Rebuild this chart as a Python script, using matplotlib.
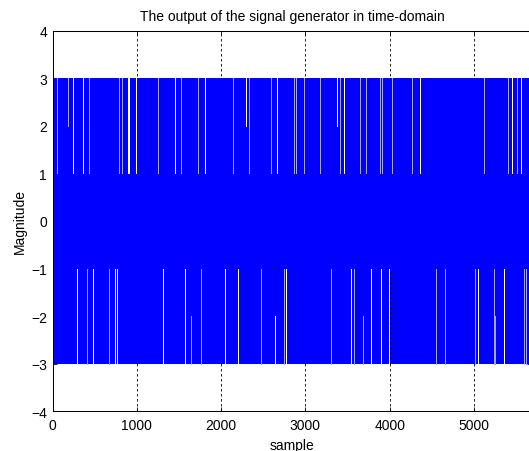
import matplotlib
matplotlib.use('Agg')
import matplotlib.pyplot as plt

plt.rcParams.update({'font.size': 10, 'font.family': ['Liberation Sans', 'DejaVu Sans']})

# 4-level signal
levels = [-3, -1, 1, 3]
n_samples = 5680

# sample positions where the signal skips the top level (white = clear gap, light = partial)
upper_white = [243, 362, 892, 907, 987, 1457, 1813, 2667, 3458, 4363, 5454, 5561]
upper_light = [50, 433, 789, 824, 1248, 1521, 1722, 2141, 2327, 2592, 2865, 2888, 2987,
               3170, 3407, 3644, 3719, 3881, 3909, 4024, 4261, 5115, 5403, 5507]
upper_white_half = [2299, 3378]
upper_light_half = [180]

# sample positions where the signal skips the bottom level
lower_white = [294, 484, 738, 762, 1314, 1575, 2050, 2197, 2773, 3537, 3775, 3897, 3995,
               5044, 5356]
lower_light = [406, 670, 1762, 2470, 2743, 3300, 3577, 4549, 4656, 5008, 5234, 5589, 5613]
lower_white_half = [2639]
lower_light_half = [1643, 3680, 5253]

blue = '#0000ff'
light = '#a6a6ff'

fig = plt.figure(figsize=(5.29, 4.52), dpi=100)
ax = fig.add_axes([52.5/529, (452-412.3)/452, n_samples*0.0843/529, 380.6/452])

lo, hi = min(levels), max(levels)
mid_hi, mid_lo = levels[2], levels[1]
ax.fill_between([0, n_samples], lo, hi, color=blue, lw=0, zorder=2)

lw = 0.72
ax.vlines(upper_white, mid_hi, hi, color='white', lw=lw, antialiased=False, zorder=3)
ax.vlines(upper_light, mid_hi, hi, color=light, lw=lw, antialiased=False, zorder=3)
ax.vlines(upper_white_half, (mid_hi+hi)/2, hi, color='white', lw=lw, antialiased=False, zorder=3)
ax.vlines(upper_light_half, (mid_hi+hi)/2, hi, color=light, lw=lw, antialiased=False, zorder=3)
ax.vlines(lower_white, lo, mid_lo, color='white', lw=lw, antialiased=False, zorder=3)
ax.vlines(lower_light, lo, mid_lo, color=light, lw=lw, antialiased=False, zorder=3)
ax.vlines(lower_white_half, lo, (mid_lo+lo)/2, color='white', lw=lw, antialiased=False, zorder=3)
ax.vlines(lower_light_half, lo, (mid_lo+lo)/2, color=light, lw=lw, antialiased=False, zorder=3)

ax.set_xlim(0, n_samples)
ax.set_ylim(-4, 4)
ax.set_xticks(range(0, 5001, 1000))
ax.set_yticks(range(-4, 5))
ax.grid(axis='x', color='black', linestyle=(0, (3, 3)), lw=0.6, zorder=1)
ax.grid(axis='y', visible=False)
ax.set_axisbelow(True)
# the gridline at 4000 shows through the gap there
ax.vlines([4000], lo, mid_lo, color='black', linestyle=(0, (3, 3)), lw=0.6, zorder=4)

for s in ax.spines.values():
    s.set_linewidth(0.75)
    s.set_zorder(5)
ax.tick_params(direction='in', length=3, width=0.6, top=True, right=True, pad=4)
ax.tick_params(axis='x', pad=5)

ax.set_title('The output of the signal generator in time-domain', fontsize=10, pad=8)
ax.set_xlabel('sample', labelpad=4)
ax.set_ylabel('Magnitude', labelpad=3)

fig.savefig('out.png', dpi=100)
